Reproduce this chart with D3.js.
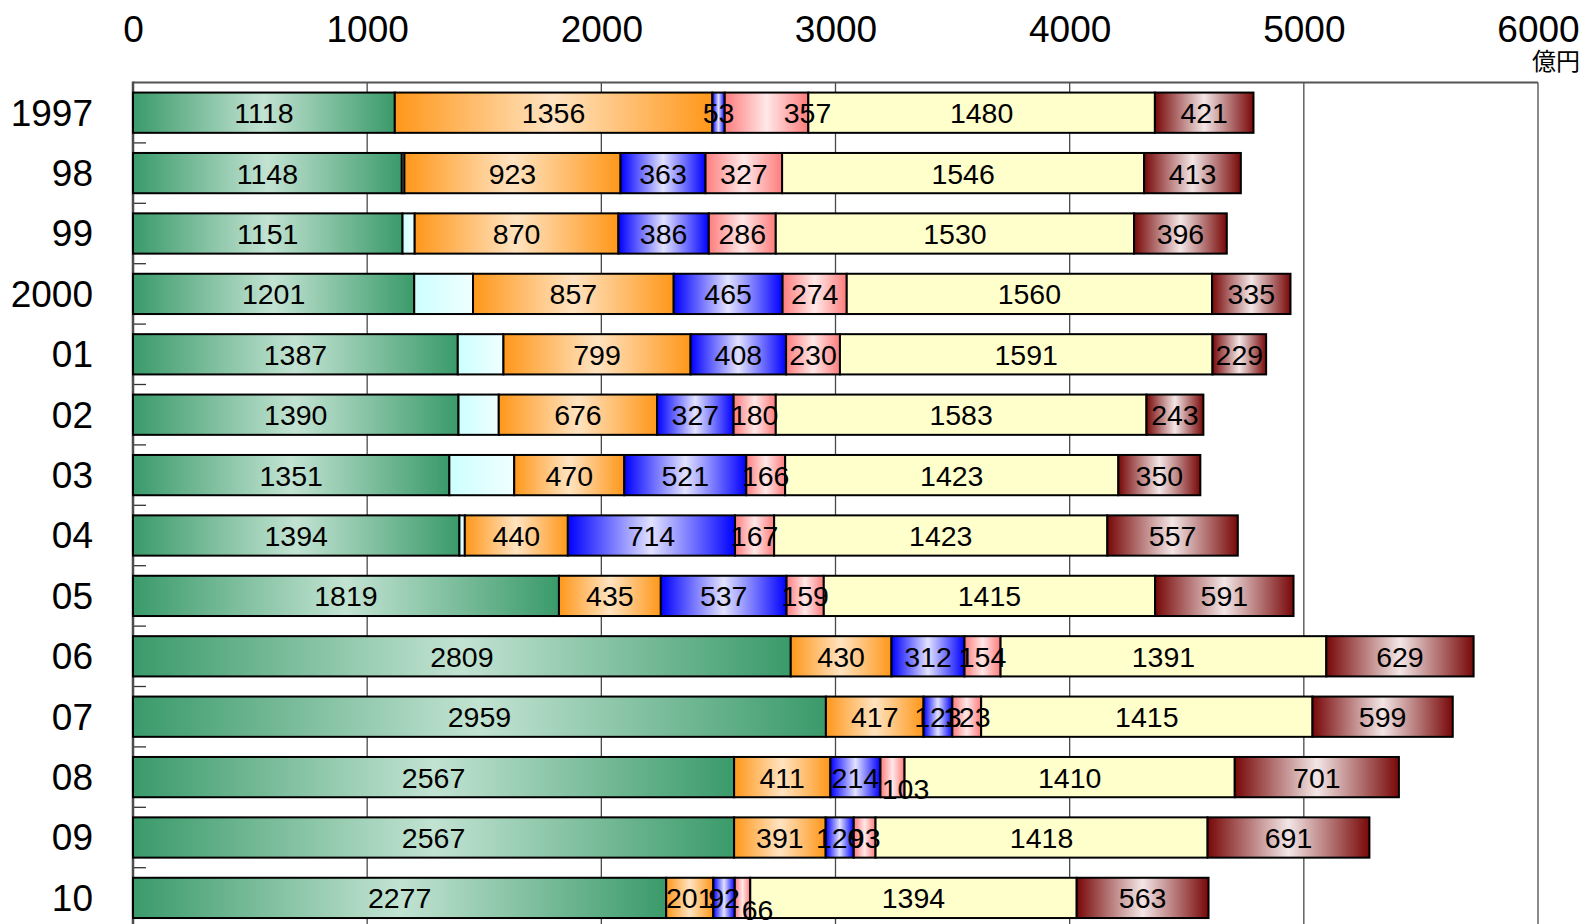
<!DOCTYPE html>
<html>
<head>
<meta charset="utf-8">
<script src="https://cdn.jsdelivr.net/npm/d3@7/dist/d3.min.js"></script>
<style>
  html, body { margin: 0; padding: 0; background: #fff; overflow: hidden; }
  svg { display: block; }
  text { font-family: "Liberation Sans", Arial, sans-serif; fill: #000; }
</style>
</head>
<body>
<svg id="chart" width="1591" height="924"></svg>
<script>
// Fiscal years (rows, top to bottom)
const years = ["1997", "98", "99", "2000", "01", "02", "03", "04", "05", "06", "07", "08", "09", "10"];

// Stacked segment values, 億円, left to right
const green  = [1118, 1148, 1151, 1201, 1387, 1390, 1351, 1394, 1819, 2809, 2959, 2567, 2567, 2277];
const cyan   = [0, 11, 52, 251, 195, 172, 277, 23, 0, 0, 0, 0, 0, 0];
const orange = [1356, 923, 870, 857, 799, 676, 470, 440, 435, 430, 417, 411, 391, 201];
const blue   = [53, 363, 386, 465, 408, 327, 521, 714, 537, 312, 123, 214, 120, 92];
const pink   = [357, 327, 286, 274, 230, 180, 166, 167, 159, 154, 123, 103, 93, 66];
const yellow = [1480, 1546, 1530, 1560, 1591, 1583, 1423, 1423, 1415, 1391, 1415, 1410, 1418, 1394];
const maroon = [421, 413, 396, 335, 229, 243, 350, 557, 591, 629, 599, 701, 691, 563];

// Axis ticks and unit
const xTicks = [0, 1000, 2000, 3000, 4000, 5000, 6000];
const unitLabel = "億円";

// Series table: key, values, fill (edge colour / centre colour), whether the value is printed
const series = [
  { key: "green",  values: green,  edge: "#3a9a6a", mid: "#c2e3d2", label: true },
  { key: "cyan",   values: cyan,   edge: "#ccffff", mid: "#f0ffff", label: false, ramp: true },
  { key: "orange", values: orange, edge: "#ff971a", mid: "#ffe3c0", label: true },
  { key: "blue",   values: blue,   edge: "#0000ff", mid: "#e2e2ff", label: true },
  { key: "pink",   values: pink,   edge: "#ff7c7c", mid: "#ffe8e8", label: true },
  { key: "yellow", values: yellow, edge: "#ffffcc", mid: "#ffffcc", label: true },
  { key: "maroon", values: maroon, edge: "#780808", mid: "#f3e6e6", label: true }
];

// Hand-placed labels (pixel nudges) where a value would sit on top of its neighbour
const labelNudge = {
  "1997|pink": [41, 0],
  "08|pink": [13, 11],
  "10|pink": [15, 12]
};

const svg = d3.select("#chart");
const W = 1591, H = 924;
const plot = { left: 133, right: 1538, top: 82.5, step: 60.4 };

const x = d3.scaleLinear().domain([0, 6000]).range([plot.left, plot.right]);
const y = d3.scaleBand()
  .domain(years)
  .range([plot.top, plot.top + plot.step * years.length])
  .paddingInner(1 / 3)
  .paddingOuter(1 / 6);

// Gradients: each segment shades edge -> centre -> edge across its own width
const defs = svg.append("defs");
series.forEach(s => {
  const g = defs.append("linearGradient")
    .attr("id", "grad-" + s.key)
    .attr("x1", 0).attr("x2", 1).attr("y1", 0).attr("y2", 0);
  if (s.ramp) {
    g.append("stop").attr("offset", 0).attr("stop-color", s.edge);
    g.append("stop").attr("offset", 1).attr("stop-color", s.mid);
  } else {
    g.append("stop").attr("offset", 0).attr("stop-color", s.edge);
    g.append("stop").attr("offset", 0.5).attr("stop-color", s.mid);
    g.append("stop").attr("offset", 1).attr("stop-color", s.edge);
  }
});

// Vertical gridlines
svg.append("g")
  .selectAll("line")
  .data(xTicks.filter(t => t > 0 && t < 6000))
  .join("line")
  .attr("x1", d => x(d)).attr("x2", d => x(d))
  .attr("y1", plot.top).attr("y2", H)
  .attr("stroke", "#4a4a4a").attr("stroke-width", 1.3);

// Plot frame: right edge and top edge
svg.append("line")
  .attr("x1", x(6000)).attr("x2", x(6000))
  .attr("y1", plot.top).attr("y2", H)
  .attr("stroke", "#8a8a8a").attr("stroke-width", 2);
svg.append("line")
  .attr("x1", plot.left).attr("x2", x(6000))
  .attr("y1", plot.top).attr("y2", plot.top)
  .attr("stroke", "#555").attr("stroke-width", 2);

// Top value axis (labels only)
const xAxis = d3.axisTop(x).tickValues(xTicks).tickSize(0).tickPadding(0).tickFormat(d3.format("d"));
const gx = svg.append("g").attr("transform", "translate(0,42)").call(xAxis);
gx.select(".domain").remove();
gx.selectAll("text")
  .attr("dy", 0)
  .style("font-size", "37px")
  .style("font-family", "'Liberation Sans', Arial, sans-serif")
  .attr("fill", "#000");

// Unit
svg.append("text")
  .attr("x", 1580).attr("y", 70)
  .attr("text-anchor", "end")
  .style("font-family", "'Noto Sans CJK JP', sans-serif")
  .style("font-size", "24px")
  .text(unitLabel);

// Category axis on the left with inward ticks at row boundaries
const yAxis = d3.axisLeft(y).tickSize(0).tickPadding(0);
const gy = svg.append("g").attr("transform", `translate(${plot.left - 40},0)`).call(yAxis);
gy.select(".domain").remove();
gy.selectAll("text")
  .attr("x", 0)
  .attr("dy", "0.35em")
  .style("font-size", "37px")
  .style("font-family", "'Liberation Sans', Arial, sans-serif")
  .attr("fill", "#000");

svg.append("g")
  .selectAll("line")
  .data(years.slice(1))
  .join("line")
  .attr("x1", plot.left).attr("x2", plot.left + 13)
  .attr("y1", d => y(d) - y.step() * y.paddingInner() / 2)
  .attr("y2", d => y(d) - y.step() * y.paddingInner() / 2)
  .attr("stroke", "#333").attr("stroke-width", 1.3);

svg.append("line")
  .attr("x1", plot.left).attr("x2", plot.left)
  .attr("y1", plot.top - 1).attr("y2", H)
  .attr("stroke", "#4d4d4d").attr("stroke-width", 2.5);

// Stack the rows
const rows = years.map((yr, i) => {
  const r = { year: yr };
  series.forEach(s => { r[s.key] = s.values[i]; });
  return r;
});
const stacked = d3.stack().keys(series.map(s => s.key))(rows);

const segs = svg.append("g").selectAll("g")
  .data(stacked)
  .join("g")
  .attr("fill", d => `url(#grad-${d.key})`);

segs.selectAll("rect")
  .data(d => d.filter(p => p[1] - p[0] > 0))
  .join("rect")
  .attr("x", d => x(d[0]))
  .attr("width", d => x(d[1]) - x(d[0]))
  .attr("y", d => y(d.data.year))
  .attr("height", y.bandwidth())
  .attr("stroke", "#000")
  .attr("stroke-width", 2);

// Value labels, centred in each segment
const labelled = stacked.filter((layer, i) => series[i].label);
svg.append("g").selectAll("g")
  .data(labelled)
  .join("g")
  .each(function (layer) {
    d3.select(this).selectAll("text")
      .data(layer.filter(p => p[1] - p[0] > 0))
      .join("text")
      .attr("x", d => {
        const n = labelNudge[d.data.year + "|" + layer.key];
        return (x(d[0]) + x(d[1])) / 2 + (n ? n[0] : 0);
      })
      .attr("y", d => {
        const n = labelNudge[d.data.year + "|" + layer.key];
        return y(d.data.year) + y.bandwidth() / 2 + (n ? n[1] : 0);
      })
      .attr("dy", "0.37em")
      .attr("text-anchor", "middle")
      .style("font-size", "28.5px")
      .text(d => d[1] - d[0]);
  });
</script>
</body>
</html>
